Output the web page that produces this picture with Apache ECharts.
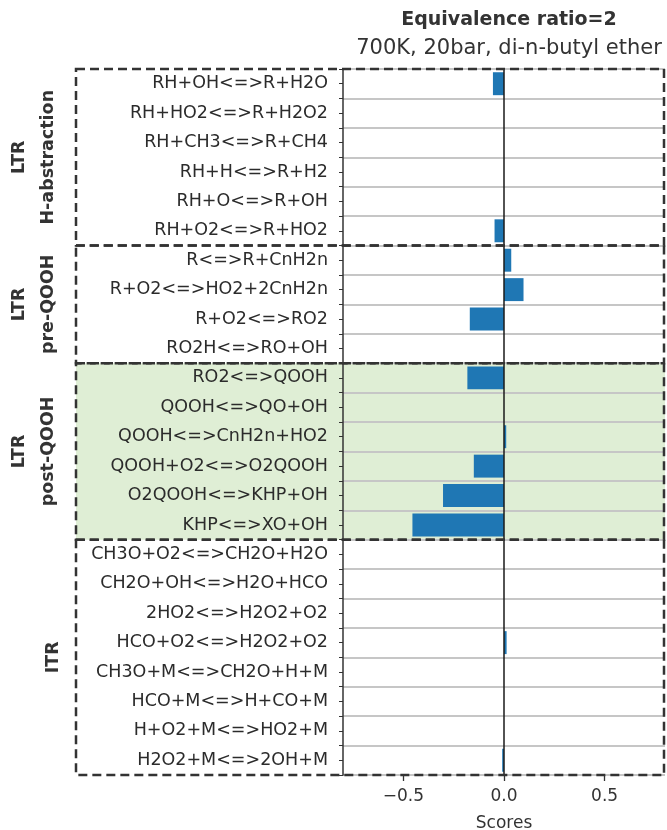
<!DOCTYPE html>
<html>
<head>
<meta charset="utf-8">
<script src="https://cdn.jsdelivr.net/npm/echarts@6/dist/echarts.min.js"></script>
<style>
html,body{margin:0;padding:0;background:#fff;}
#chart{width:667px;height:830px;}
</style>
</head>
<body>
<div id="chart"></div>
<script>
const categories = [
  'RH+OH<=>R+H2O','RH+HO2<=>R+H2O2','RH+CH3<=>R+CH4','RH+H<=>R+H2','RH+O<=>R+OH','RH+O2<=>R+HO2',
  'R<=>R+CnH2n','R+O2<=>HO2+2CnH2n','R+O2<=>RO2','RO2H<=>RO+OH',
  'RO2<=>QOOH','QOOH<=>QO+OH','QOOH<=>CnH2n+HO2','QOOH+O2<=>O2QOOH','O2QOOH<=>KHP+OH','KHP<=>XO+OH',
  'CH3O+O2<=>CH2O+H2O','CH2O+OH<=>H2O+HCO','2HO2<=>H2O2+O2','HCO+O2<=>H2O2+O2','CH3O+M<=>CH2O+H+M','HCO+M<=>H+CO+M','H+O2+M<=>HO2+M','H2O2+M<=>2OH+M'
];
const scores = [
  -0.055, 0, 0, 0, 0, -0.047,
  0.036, 0.097, -0.17, 0,
  -0.182, 0, 0.011, -0.15, -0.303, -0.455,
  0, 0, 0, 0.013, 0, 0, 0, -0.009
];
const groupLabels = [['LTR','H-abstraction'],['LTR','pre-QOOH'],['LTR','post-QOOH'],['','ITR']];
const groupSizes = [6, 4, 6, 8];
const highlightedGroup = 2;
const xTicks = [-0.5, 0, 0.5];
const titleText = 'Equivalence ratio=2';
const subtitleText = '700K, 20bar, di-n-butyl ether';

const chart = echarts.init(document.getElementById('chart'), null, {renderer:'canvas'});
const fmt = v => (v < 0 ? '\u2212' + Math.abs(v).toFixed(1) : v.toFixed(1));
const font = 'DejaVu Sans';

const option = {
  animation: false,
  backgroundColor: '#fff',
  title: {
    text: titleText,
    subtext: subtitleText,
    left: 504, top: 6, textAlign: 'center',
    itemGap: 8,
    textStyle: {fontFamily: font, fontSize: 19, fontWeight: 'bold', color: '#333'},
    subtextStyle: {fontFamily: font, fontSize: 21, color: '#333'}
  },
  grid: {left: 343, right: 2, top: 69, bottom: 55, containLabel: false, outerBoundsMode: 'none'},
  xAxis: {
    type: 'value', min: -0.8, max: 0.8,
    axisLine: {show: false},
    splitLine: {show: false},
    axisTick: {show: true, customValues: xTicks, length: 6, lineStyle: {color: '#333', width: 1.3}},
    axisLabel: {customValues: xTicks, formatter: fmt, fontFamily: font, fontSize: 17, color: '#333', margin: 13},
    name: 'Scores', nameLocation: 'middle', nameGap: 40,
    nameTextStyle: {fontFamily: font, fontSize: 17, color: '#333'}
  },
  yAxis: [{
    type: 'category', data: categories, inverse: true,
    axisLine: {show: true, onZero: false, lineStyle: {color: '#333', width: 1.5}},
    axisTick: {show: true, alignWithLabel: true, length: 4, lineStyle: {color: '#333'}},
    axisLabel: {fontFamily: font, fontSize: 17.5, color: '#2b2b2b', margin: 15, interval: 0},
    splitLine: {show: true, interval: 0, lineStyle: {color: '#c6c6c6', width: 2}}
  }, {
    type: 'category', data: categories, inverse: true, position: 'left',
    axisLine: {show: false, onZero: false},
    axisTick: {show: true, length: 4, interval: 0, lineStyle: {color: '#333'}},
    axisLabel: {show: false},
    splitLine: {show: false}
  }],
  series: [{
    type: 'bar', data: scores, barWidth: '78%',
    itemStyle: {color: '#1f77b4'},
    z: 3,
    markLine: {
      silent: true, symbol: 'none', label: {show: false},
      lineStyle: {color: '#1a1a1a', width: 1.5, type: 'solid', opacity: 1},
      emphasis: {disabled: true},
      data: [{xAxis: 0}]
    }
  }]
};
chart.setOption(option);

function buildGraphics() {
  const pt = i => chart.convertToPixel({gridIndex: 0}, [0, categories[i]]);
  const step = pt(1)[1] - pt(0)[1];
  const rightX = chart.convertToPixel({xAxisIndex: 0}, 0.8);
  const leftX = 76;
  const els = [];
  let start = 0;
  groupSizes.forEach((n, g) => {
    const top = pt(start)[1] - step / 2;
    const bottom = pt(start + n - 1)[1] + step / 2;
    const mid = (top + bottom) / 2;
    if (g === highlightedGroup) {
      els.push({type: 'rect', z: -10, silent: true,
        shape: {x: leftX, y: top, width: rightX - leftX, height: bottom - top},
        style: {fill: '#dfeed5', stroke: null}});
    }
    els.push({type: 'rect', z: 50, silent: true,
      shape: {x: leftX, y: top, width: rightX - leftX - 1, height: bottom - top},
      style: {fill: null, stroke: '#333', lineWidth: 2.5, lineDash: [9, 5]}});
    const [l1, l2] = groupLabels[g];
    if (l1) {
      els.push({type: 'text', x: 19, y: mid, rotation: Math.PI / 2, silent: true,
        style: {text: l1, fontFamily: font, fontSize: 17.5, fontWeight: 'bold', fill: '#333', align: 'center', verticalAlign: 'middle'}});
    }
    els.push({type: 'text', x: l1 ? 48 : 53, y: mid, rotation: Math.PI / 2, silent: true,
      style: {text: l2, fontFamily: font, fontSize: 17.5, fontWeight: 'bold', fill: '#333', align: 'center', verticalAlign: 'middle'}});
    start += n;
  });
  chart.setOption({graphic: {elements: els}});
}
buildGraphics();
</script>
</body>
</html>
